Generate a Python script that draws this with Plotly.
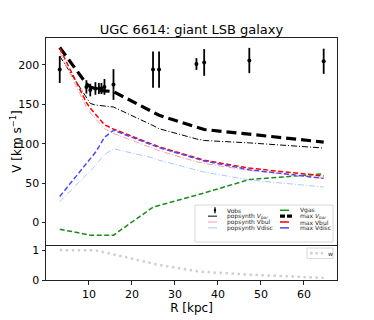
import plotly.graph_objects as go

# radii of the observed points (kpc)
R = [3.2, 9.4, 10.3, 11.5, 12.3, 12.9, 13.6, 15.7, 24.9, 26.3, 35.0, 36.8, 47.3, 64.6]

# observed rotation curve
v_obs = [194, 172, 168, 170, 170, 170, 172, 175, 194, 194, 201, 203, 205.5, 204.5]
v_err = [17, 8.5, 8, 8, 7, 7, 10, 19.5, 23, 23, 7.5, 17, 16, 16]

# model components
v_gas = [-8.5, -15.5, -16, -16, -16, -16, -16, -16, 19.5, 21.5, 34.5, 37.5, 54.5, 61.8]
vbar_pop = [211, 158, 151, 149, 148.5, 148, 148, 146.5, 123, 119, 106, 104, 101, 94.5]
vbar_max = [222, 176, 172, 170, 168, 167, 167, 166, 140, 136, 121, 118, 112, 102]
vbul_pop = [216, 146, 139, 131, 126, 123, 119, 113, 94, 91, 77, 75, 66, 56]
vbul_max = [221, 152, 145, 137, 132, 128, 124, 118.5, 99, 96, 82, 79, 69, 59]
vdisc_pop = [26.5, 61, 66, 72, 78, 82, 86, 93.5, 82, 79, 67, 64, 54, 45]
vdisc_max = [33, 74, 80, 89, 96, 101, 108, 117, 98, 95, 81, 78, 67, 56]

# weight w (lower panel)
w = [1.0, 1.0, 1.0, 0.99, 0.97, 0.95, 0.93, 0.86, 0.55, 0.5, 0.3, 0.27, 0.18, 0.07]

# page body has an 8px margin, so the figure is a bit smaller than the window
OFF = 8
W, H = 374 - OFF, 320 - OFF
ML, MR, MT, MB = 38, 37, 30, 40
FONT = "DejaVu Sans"

fig = go.Figure()

fig.add_trace(go.Scatter(
    x=R, y=v_obs, name='Vobs', mode='markers',
    marker=dict(color='black', size=4),
    error_y=dict(type='data', array=v_err, color='black', thickness=1.8, width=0),
))

lines = [
    ('Vgas', v_gas, '#1a8c1a', 1.5, '5px,2.5px'),
    ('popsynth <i>V</i><sub><i>bar</i></sub>', vbar_pop, 'black', 1.0, '6px,2px,1px,2px'),
    ('max <i>V</i><sub><i>bar</i></sub>', vbar_max, 'black', 3.2, '10px,5px'),
    ('popsynth Vbul', vbul_pop, '#ff9f9f', 1.0, '6px,2px,1px,2px'),
    ('max Vbul', vbul_max, 'red', 1.5, '5px,2.5px'),
    ('popsynth Vdisc', vdisc_pop, '#aac8ff', 1.0, '6px,2px,1px,2px'),
    ('max Vdisc', vdisc_max, '#4a4aff', 1.5, '5px,2.5px'),
]
for name, vals, col, lw, dash in lines:
    fig.add_trace(go.Scatter(
        x=R, y=vals, name=name, mode='lines',
        line=dict(color=col, width=lw, dash=dash),
    ))

fig.add_trace(go.Scatter(
    x=R, y=w, name='w', mode='lines', xaxis='x2', yaxis='y2',
    line=dict(color='#d0d0d0', width=2.5, dash='2.5px,3.5px'),
))

fig.update_traces(showlegend=False)

# hand-made legend (plotly's own legend rows are too tall for this size)
# positions below are in window pixels
pw, ph = W - ML - MR, H - MT - MB


def px(x):
    return (x - OFF - ML) / pw


def py(y):
    return (H - MB - (y - OFF)) / ph


box = dict(fillcolor='rgba(255,255,255,0.85)', line=dict(color='#d8d8d8', width=1), layer='above')
shapes = [
    dict(type='rect', xref='paper', yref='paper', x0=px(195), x1=px(333), y0=py(242), y1=py(205), **box),
    dict(type='rect', xref='paper', yref='paper', x0=px(307), x1=px(333), y0=py(258.5), y1=py(248), **box),
]
annotations = []
lfont = dict(size=6, family=FONT, color='#222')
order = ['Vobs', 'popsynth <i>V</i><sub><i>bar</i></sub>', 'popsynth Vbul', 'popsynth Vdisc',
         'Vgas', 'max <i>V</i><sub><i>bar</i></sub>', 'max Vbul', 'max Vdisc']
byname = {t.name: t for t in fig.data}
for i, name in enumerate(order):
    col, row = divmod(i, 4)
    yy = 210.3 + 5.85 * row
    sx0 = 208 if col == 0 else 280
    tx = 225 if col == 0 else 298
    tr = byname[name]
    if name == 'Vobs':
        shapes.append(dict(type='line', xref='paper', yref='paper', x0=px(sx0 + 7), x1=px(sx0 + 7),
                           y0=py(yy - 3), y1=py(yy + 3), line=dict(color='black', width=1.3), layer='above'))
        shapes.append(dict(type='circle', xref='paper', yref='paper', x0=px(sx0 + 5.8), x1=px(sx0 + 8.2),
                           y0=py(yy + 1.2), y1=py(yy - 1.2), fillcolor='black', line=dict(width=0), layer='above'))
    else:
        shapes.append(dict(type='line', xref='paper', yref='paper', x0=px(sx0), x1=px(sx0 + 14),
                           y0=py(yy), y1=py(yy), layer='above',
                           line=dict(color=tr.line.color, width=tr.line.width,
                                     dash='dash' if tr.line.width < 3 else '5px,2px')))
    annotations.append(dict(xref='paper', yref='paper', x=px(tx), y=py(yy), text=name, showarrow=False,
                            xanchor='left', yanchor='middle', font=lfont))

shapes.append(dict(type='line', xref='paper', yref='paper', x0=px(310), x1=px(323), y0=py(253.3), y1=py(253.3),
                   line=dict(color='#d0d0d0', width=2.5, dash='2.5px,3px'), layer='above'))
annotations.append(dict(xref='paper', yref='paper', x=px(326), y=py(253.3), text='w', showarrow=False,
                        xanchor='left', yanchor='middle', font=lfont))

split = 35 / ph
axis_common = dict(showline=True, linecolor='#222', linewidth=1, showgrid=False, zeroline=False,
                   automargin=False, tickfont=dict(size=11, family=FONT, color='black'),
                   ticklen=3.5, tickcolor='#222')

fig.update_layout(
    width=W, height=H,
    margin=dict(l=ML, r=MR, t=MT, b=MB),
    paper_bgcolor='white', plot_bgcolor='white',
    font=dict(family=FONT, color='black'),
    title=dict(text='UGC 6614: giant LSB galaxy', x=0.5, xref='paper', xanchor='center',
               y=1 - (29 - OFF) / H, yanchor='middle', font=dict(size=13, family=FONT, color='black')),
    xaxis=dict(domain=[0, 1], anchor='y', range=[0, 67.7], showticklabels=False, ticks='', mirror=True,
               **axis_common),
    yaxis=dict(domain=[split, 1], anchor='x', range=[-28.5, 234], tickvals=[0, 50, 100, 150, 200],
               ticks='outside', mirror=True,
               title=dict(text='V [km s<sup>−1</sup>]', font=dict(size=12, family=FONT), standoff=5),
               **axis_common),
    xaxis2=dict(domain=[0, 1], anchor='y2', matches='x', range=[0, 67.7], tickvals=[10, 20, 30, 40, 50, 60],
                ticks='outside', mirror=False,
                title=dict(text='R [kpc]', font=dict(size=12, family=FONT), standoff=2),
                **axis_common),
    yaxis2=dict(domain=[0, split], anchor='x2', range=[0, 1.17], tickvals=[0, 1], ticks='outside',
                mirror=True, **axis_common),
    shapes=shapes,
    annotations=annotations,
    showlegend=False,
)

fig.write_html("out.html")
